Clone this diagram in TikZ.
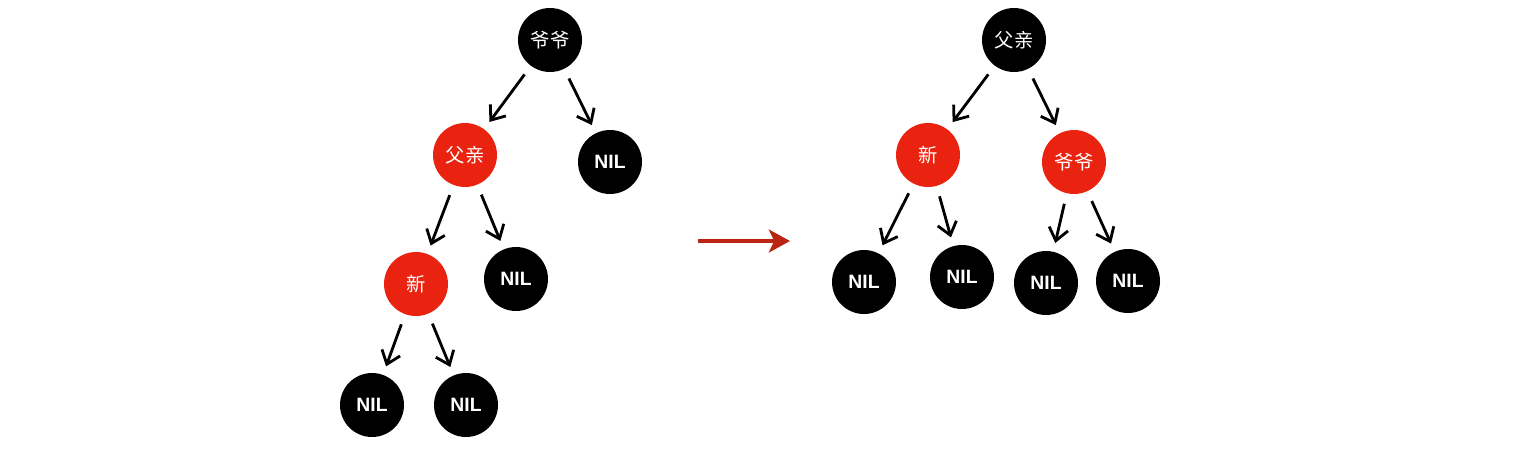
\documentclass[tikz,border=0pt]{standalone}
\usepackage{fontspec}
\setmainfont{Liberation Sans}
\newfontfamily\cjk{Noto Sans CJK SC}
\usetikzlibrary{arrows.meta}
\definecolor{rbred}{RGB}{234,34,16}
\definecolor{arrred}{RGB}{186,36,18}

\begin{document}
\begin{tikzpicture}[x=0.02cm,y=-0.02cm,
    blk/.style={circle,fill=black,text=white,minimum size=1.28cm,inner sep=0pt,font=\fontsize{11}{13}\selectfont\bfseries},
    red/.style={blk,fill=rbred},
    edge/.style={-{Straight Barb[length=7pt,width=11pt]},line width=1.6pt,shorten <=6pt,shorten >=5pt}]
    \useasboundingbox (0,0) rectangle (1520,450);
    % before
    \node[blk] (gp) at (550,40) {\cjk\mdseries 爷爷};
    \node[red] (p) at (465,155) {\cjk\mdseries 父亲};
    \node[blk] (u) at (610,162) {NIL};
    \node[red] (n) at (416,284) {\cjk\mdseries 新};
    \node[blk] (pr) at (516,279) {NIL};
    \node[blk] (nl) at (372,405) {NIL};
    \node[blk] (nr) at (466,405) {NIL};
    \draw[edge] (gp) -- (p);
    \draw[edge] (gp) -- (u);
    \draw[edge] (p) -- (n);
    \draw[edge] (p) -- (pr);
    \draw[edge] (n) -- (nl);
    \draw[edge] (n) -- (nr);
    % rotation
    \coordinate (a1) at (698,241);
    \coordinate (a2) at (790,241);
    \draw[-{Stealth[length=12pt,width=13pt,inset=3pt]},arrred,line width=2.4pt] (a1) -- (a2);
    % after
    \node[blk] (p2) at (1014,40) {\cjk\mdseries 父亲};
    \node[red] (n2) at (928,155) {\cjk\mdseries 新};
    \node[red] (gp2) at (1074,162) {\cjk\mdseries 爷爷};
    \node[blk] (n2l) at (864,282) {NIL};
    \node[blk] (n2r) at (962,277) {NIL};
    \node[blk] (gp2l) at (1046,283) {NIL};
    \node[blk] (gp2r) at (1128,281) {NIL};
    \draw[edge] (p2) -- (n2);
    \draw[edge] (p2) -- (gp2);
    \draw[edge] (n2) -- (n2l);
    \draw[edge] (n2) -- (n2r);
    \draw[edge] (gp2) -- (gp2l);
    \draw[edge] (gp2) -- (gp2r);
\end{tikzpicture}
\end{document}
